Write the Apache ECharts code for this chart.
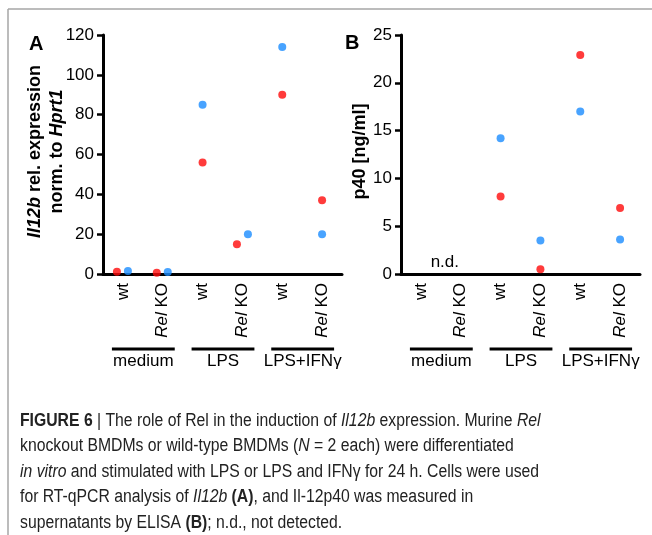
<!DOCTYPE html>
<html><head><meta charset="utf-8">
<script src="https://cdn.jsdelivr.net/npm/echarts@6/dist/echarts.min.js"></script>
<style>html,body{margin:0;padding:0;background:#fff}#c{width:652px;height:535px}</style>
</head><body><div id="c"></div>
<script>
// ---- data ----
const groups = ['medium', 'LPS', 'LPS+IFNγ'];
const genotypes = ['wt', 'Rel KO'];
const categories = ['medium wt', 'medium Rel KO', 'LPS wt', 'LPS Rel KO', 'LPS+IFNγ wt', 'LPS+IFNγ Rel KO'];
// Panel A: Il12b rel. expression norm. to Hprt1 (two replicates)
const il12bRep1 = [1.1, 0.6, 56, 15, 90, 37];      // red
const il12bRep2 = [1.5, 1.0, 85, 20, 114, 20];     // blue
// Panel B: p40 [ng/ml] (n.d. for medium)
const p40Rep1 = [null, null, 8.1, 0.5, 22.9, 6.9]; // red
const p40Rep2 = [null, null, 14.2, 3.5, 17, 3.6];  // blue
const yTicksA = [0, 20, 40, 60, 80, 100, 120];
const yTicksB = [0, 5, 10, 15, 20, 25];
const yTitleA = '{bi|Il12b}{b| rel. expression}\n{b|norm. to }{bi|Hprt1}';
const yTitleB = '{b|p40 [ng/ml]}';

// ---- style ----
const FF = "'Liberation Sans', Arial, Helvetica, sans-serif";
const RED = '#ff0a0a', BLUE = '#1a8cff';
const offA1 = [-6, -6, 0, -5.5, 0, 0];
const offA2 = [5, 5, 0, 5.5, 0, 0];
const offB1 = [0, 0, 0, 0, 0, 0];
const offB2 = [0, 0, 0, 0, 0, 0];

const chart = echarts.init(document.getElementById('c'), null, {renderer: 'canvas'});

function pts(vals, offs) {
  const out = [];
  vals.forEach((v, i) => { if (v !== null) out.push({value: [i, v], symbolOffset: [offs[i], 0]}); });
  return out;
}
function xAxisDef(gi) {
  return {
    type: 'category', gridIndex: gi, data: categories, boundaryGap: true,
    axisLine: {lineStyle: {color: '#000', width: 3}},
    axisTick: {alignWithLabel: true, length: 6, lineStyle: {color: '#000', width: 2.5}},
    axisLabel: {
      rotate: 90, margin: 9, color: '#000', fontSize: 17, fontFamily: FF, interval: 0,
      formatter: (v, idx) => idx % 2 === 0 ? genotypes[0] : '{i|Rel} KO',
      rich: {i: {fontStyle: 'italic', fontSize: 17, fontFamily: FF, color: '#000'}}
    },
    splitLine: {show: false}
  };
}
function yAxisDef(gi, ticks) {
  const step = ticks[1] - ticks[0];
  return {
    type: 'value', gridIndex: gi, min: ticks[0], max: ticks[ticks.length - 1], interval: step,
    axisLine: {show: true, lineStyle: {color: '#000', width: 3}},
    axisTick: {show: true, length: 6, lineStyle: {color: '#000', width: 2.5}},
    axisLabel: {margin: 9, color: '#000', fontSize: 17, fontFamily: FF},
    splitLine: {show: false}
  };
}
const richT = {
  bi: {fontStyle: 'italic', fontWeight: 'bold', fontSize: 18, fontFamily: FF, color: '#000', lineHeight: 22},
  b: {fontWeight: 'bold', fontSize: 18, fontFamily: FF, color: '#000', lineHeight: 22}
};

chart.setOption({
  animation: false,
  backgroundColor: '#fff',
  grid: [
    {left: 103, top: 35, width: 239, height: 239, containLabel: false, outerBoundsMode: 'none'},
    {left: 401, top: 35, width: 239, height: 239, containLabel: false, outerBoundsMode: 'none'}
  ],
  xAxis: [xAxisDef(0), xAxisDef(1)],
  yAxis: [yAxisDef(0, yTicksA), yAxisDef(1, yTicksB)],
  series: [
    {type: 'scatter', xAxisIndex: 0, yAxisIndex: 0, symbolSize: 8, itemStyle: {color: RED}, data: pts(il12bRep1, offA1)},
    {type: 'scatter', xAxisIndex: 0, yAxisIndex: 0, symbolSize: 8, itemStyle: {color: BLUE}, data: pts(il12bRep2, offA2)},
    {type: 'scatter', xAxisIndex: 1, yAxisIndex: 1, symbolSize: 8, itemStyle: {color: RED}, data: pts(p40Rep1, offB1)},
    {type: 'scatter', xAxisIndex: 1, yAxisIndex: 1, symbolSize: 8, itemStyle: {color: BLUE}, data: pts(p40Rep2, offB2)}
  ]
});

// ---- annotations positioned from the axes ----
const els = [];
// frame
els.push({type: 'line', shape: {x1: 8, y1: 9, x2: 652, y2: 9}, style: {stroke: '#a6a6a6', lineWidth: 1.5}});
els.push({type: 'line', shape: {x1: 8, y1: 9, x2: 8, y2: 535}, style: {stroke: '#a6a6a6', lineWidth: 1.5}});
// panel letters
els.push({type: 'text', left: 29, top: 34, style: {text: 'A', font: "bold 20px " + FF, fill: '#000'}});
els.push({type: 'text', left: 345, top: 33, style: {text: 'B', font: "bold 20px " + FF, fill: '#000'}});
// y-axis titles (rotated), placed relative to the axis line
[[0, yTitleA, 57, yTicksA], [1, yTitleB, 41, yTicksB]].forEach(([ax, txt, gap, tk]) => {
  const xAxisPix = chart.convertToPixel({xAxisIndex: ax}, 0) - 20;
  const yTop = chart.convertToPixel({yAxisIndex: ax}, tk[tk.length - 1]);
  const yBot = chart.convertToPixel({yAxisIndex: ax}, tk[0]);
  els.push({type: 'text', x: xAxisPix - gap, y: (yTop + yBot) / 2 - 3, rotation: Math.PI / 2,
    style: {text: txt, rich: richT, textAlign: 'center', textVerticalAlign: 'middle', fill: '#000'}});
});
[0, 1].forEach(ax => {
  const y0 = chart.convertToPixel({yAxisIndex: ax}, 0);
  groups.forEach((g, gi) => {
    const xa = chart.convertToPixel({xAxisIndex: ax}, gi * 2);
    const xb = chart.convertToPixel({xAxisIndex: ax}, gi * 2 + 1);
    const x1 = xa - 11, x2 = xb + 12;
    els.push({type: 'line', shape: {x1: x1, y1: y0 + 75, x2: x2, y2: y0 + 75}, style: {stroke: '#000', lineWidth: 3}});
    els.push({type: 'text', x: (x1 + x2) / 2, y: y0 + 87, style: {text: g, font: "17px " + FF, fill: '#000', textAlign: 'center', textVerticalAlign: 'middle'}});
  });
});
// n.d. in panel B
{
  const xa = chart.convertToPixel({xAxisIndex: 1}, 0);
  const xb = chart.convertToPixel({xAxisIndex: 1}, 1);
  const y0 = chart.convertToPixel({yAxisIndex: 1}, 0);
  els.push({type: 'text', x: (xa + xb) / 2 + 4, y: y0 - 12, style: {text: 'n.d.', font: "17px " + FF, fill: '#000', textAlign: 'center', textVerticalAlign: 'middle'}});
}
// caption (condensed via horizontal scale)
const CF = "'Liberation Sans', Arial, sans-serif";
els.push({
  type: 'text', x: 20, y: 408, scaleX: 0.875, scaleY: 1,
  style: {
    text: '{b|FIGURE 6} {g||} The role of Rel in the induction of {i|Il12b} expression. Murine {i|Rel}\n' +
          'knockout BMDMs or wild-type BMDMs ({i|N} = 2 each) were differentiated\n' +
          '{i|in vitro} and stimulated with LPS or LPS and IFNγ for 24 h. Cells were used\n' +
          'for RT-qPCR analysis of {i|Il12b} {b|(A)}, and Il-12p40 was measured in\n' +
          'supernatants by ELISA {b|(B)}; n.d., not detected.',
    fontSize: 18, fontFamily: CF, fill: '#222', lineHeight: 25.5,
    rich: {
      b: {fontWeight: 'bold', fontSize: 18, fontFamily: CF, color: '#222', lineHeight: 25.5},
      i: {fontStyle: 'italic', fontSize: 18, fontFamily: CF, color: '#222', lineHeight: 25.5},
      g: {fontSize: 18, fontFamily: CF, color: '#888', lineHeight: 25.5}
    }
  }
});
chart.setOption({graphic: {elements: els}});
</script>
</body></html>
